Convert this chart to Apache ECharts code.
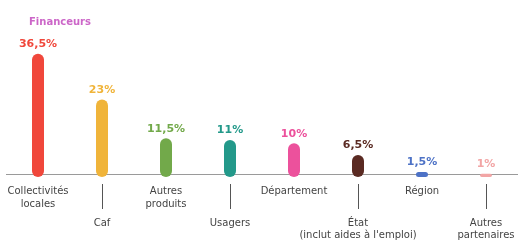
<!DOCTYPE html>
<html>
<head>
<meta charset="utf-8">
<script src="https://cdn.jsdelivr.net/npm/echarts@6/dist/echarts.min.js"></script>
<style>
  html, body { margin: 0; padding: 0; background: #fff; }
  #chart { width: 520px; height: 241px; }
</style>
</head>
<body>
<div id="chart"></div>
<script>
// financeurs
var categories = ['Collectivités\nlocales', 'Caf', 'Autres\nproduits', 'Usagers', 'Département', 'État\n(inclut aides à l\'emploi)', 'Région', 'Autres\npartenaires'];
var values = [36.5, 23, 11.5, 11, 10, 6.5, 1.5, 1];
var valueLabels = ['36,5%', '23%', '11,5%', '11%', '10%', '6,5%', '1,5%', '1%'];
var colors = ['#f0473b', '#f0b43a', '#72a94a', '#23998a', '#ec519c', '#5a2a22', '#4d72c6', '#f2a5a5'];
var baseLine = 0.9;

var myChart = echarts.init(document.getElementById('chart'));

var data = [];
for (var i = 0; i < values.length; i++) {
	data.push({
		value: values[i],
		itemStyle: { color: colors[i] },
		label: { color: colors[i] }
	});
}

var option = {
	animation: false,
	title: {
		text: 'Financeurs',
		left: 24,
		top: 12,
		textStyle: { fontSize: 10, fontWeight: 'bold', color: '#cc66c8', fontFamily: 'DejaVu Sans' }
	},
	grid: { left: 6, right: 2, top: 42, bottom: 63 },
	xAxis: [
		{
			type: 'category',
			data: categories,
			axisLine: { show: false },
			axisTick: { show: false },
			axisLabel: {
				interval: function (index) { return index % 2 === 0; },
				margin: 8,
				fontSize: 10,
				lineHeight: 13,
				color: '#444',
				fontFamily: 'DejaVu Sans'
			}
		},
		{
			type: 'category',
			data: categories,
			position: 'bottom',
			offset: 7,
			axisLine: { show: false },
			axisTick: {
				show: true,
				alignWithLabel: true,
				length: 25,
				interval: function (index) { return index % 2 === 1; },
				lineStyle: { color: '#555', width: 1 }
			},
			axisLabel: {
				interval: function (index) { return index % 2 === 1; },
				margin: 33,
				fontSize: 10,
				lineHeight: 12,
				color: '#444',
				fontFamily: 'DejaVu Sans'
			}
		}
	],
	yAxis: {
		type: 'value',
		min: 0,
		max: 40,
		show: false
	},
	series: [
		{
			type: 'bar',
			xAxisIndex: 0,
			data: data,
			barWidth: 12,
			itemStyle: { borderRadius: 6 },
			label: {
				show: true,
				position: 'top',
				distance: 4,
				fontSize: 11,
				fontWeight: 'bold',
				fontFamily: 'DejaVu Sans',
				formatter: function (p) { return valueLabels[p.dataIndex]; }
			},
			markLine: {
				silent: true,
				symbol: 'none',
				label: { show: false },
				lineStyle: { color: '#9a9a9a', width: 1, type: 'solid' },
				z: 1,
				data: [{ yAxis: baseLine }]
			}
		}
	]
};

myChart.setOption(option);
</script>
</body>
</html>
